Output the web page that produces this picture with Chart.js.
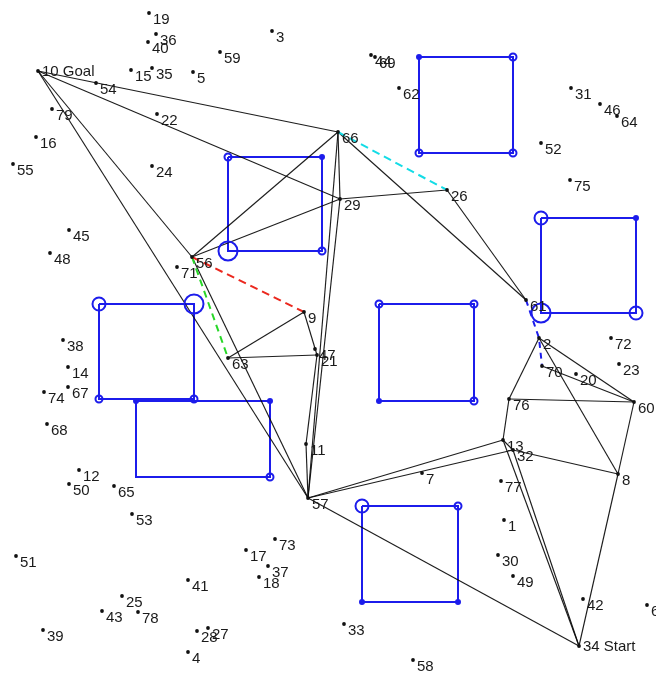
<!DOCTYPE html>
<html>
<head>
<meta charset="utf-8">
<title>Roadmap</title>
<script src="https://cdn.jsdelivr.net/npm/chart.js@4.4.1/dist/chart.umd.min.js"></script>
<style>
  html, body { margin: 0; padding: 0; background: #ffffff; }
  #wrap { width: 656px; height: 675px; }
</style>
</head>
<body>
<div id="wrap"><canvas id="map" width="656" height="675"></canvas></div>
<script>
// ---- roadmap nodes ----
const nodeIds = [1,2,3,4,5,6,7,8,9,10,11,12,13,14,15,16,17,18,19,20,21,22,23,24,25,26,27,28,29,30,
  31,32,33,34,35,36,37,38,39,40,41,42,43,44,45,46,47,48,49,50,51,52,53,54,55,56,57,58,59,60,
  61,62,63,64,65,66,67,68,69,70,71,72,73,74,75,76,77,78,79];
const nodeX = [504,539,272,188,193,647,422,618,304,38,306,79,503,68,131,36,246,259,149,576,317,157,619,152,122,447,208,197,340,498,
  571,513,344,579,152,156,268,63,43,148,188,583,102,371,69,600,315,50,513,69,16,541,132,96,13,192,308,413,220,634,
  526,399,228,617,114,338,68,47,375,542,177,611,275,44,570,509,501,138,52];
const nodeY = [520,338,31,652,72,605,473,474,312,71,444,470,440,367,70,137,550,577,13,374,355,114,364,166,596,190,628,631,199,555,
  88,450,624,646,68,34,566,340,630,42,580,599,611,55,230,104,349,253,576,484,556,143,514,83,164,257,498,660,52,402,
  300,88,358,116,486,132,387,424,57,366,267,338,539,392,180,399,481,612,109];
const nodeNames = { 10: 'Goal', 34: 'Start' };

// ---- roadmap edges (node id pairs) ----
const edges = [
  [10,66],[10,29],[10,56],[10,57],
  [56,66],[56,29],[56,57],
  [66,29],[66,57],[29,57],[29,26],[66,61],[26,61],
  [63,9],[63,21],[9,21],[21,11],[11,57],
  [57,13],[57,32],[57,34],[13,34],[32,34],[13,32],
  [13,76],[76,60],[2,76],[2,60],[2,8],[70,60],[60,8],[32,8],[8,34]
];

// ---- highlighted paths ----
const redPath = [56, 9];
const greenPath = [56, 63];
const cyanPath = [66, 26];
const bluePath = [61, 2, 70];

// ---- square obstacles: left, top, right, bottom ----
const obsLeft   = [419, 228,  99, 136, 379, 541, 362];
const obsTop    = [ 57, 157, 304, 401, 304, 218, 506];
const obsRight  = [513, 322, 194, 270, 474, 636, 458];
const obsBottom = [153, 251, 399, 477, 401, 313, 602];

// corner markers: [obstacle, corner] with corner 0=TL 1=TR 2=BR 3=BL
const cornerDots = [[0,0],[1,1],[3,0],[3,1],[4,3],[5,1],[6,3],[6,2]];
const cornerRingsSmall = [[0,1],[0,2],[0,3],[1,0],[1,2],[2,3],[2,2],[3,2],[4,0],[4,1],[4,2],[6,1]];
const cornerRingsMid = [[2,0],[5,0],[5,2],[6,0]];
const cornerRingsLarge = [[1,3],[2,1],[5,3]];

const BLUE = 'rgb(28,28,235)';
const LINE = 'rgba(10,10,10,0.92)';

function node(id) {
  const i = nodeIds.indexOf(id);
  return { x: nodeX[i], y: nodeY[i] };
}
function corner(o, c) {
  const xs = [obsLeft[o], obsRight[o], obsRight[o], obsLeft[o]];
  const ys = [obsTop[o], obsTop[o], obsBottom[o], obsBottom[o]];
  return { x: xs[c], y: ys[c] };
}

const datasets = [];

// obstacle outlines
for (let o = 0; o < obsLeft.length; o++) {
  datasets.push({
    data: [0,1,2,3,0].map(c => corner(o, c)),
    showLine: true, borderColor: BLUE, borderWidth: 2, pointRadius: 0, fill: false, order: 5
  });
}

// edges
edges.forEach(([a, b]) => {
  datasets.push({
    data: [node(a), node(b)],
    showLine: true, borderColor: LINE, borderWidth: 1.15, pointRadius: 0, fill: false, order: 4
  });
});

// dashed paths
function dashed(path, color, dash) {
  datasets.push({
    data: path.map(node),
    showLine: true, borderColor: color, borderWidth: 2, borderDash: dash,
    pointRadius: 0, fill: false, order: 3
  });
}
dashed(redPath, 'rgb(235,40,30)', [8, 5]);
dashed(greenPath, 'rgb(40,215,40)', [7, 5]);
dashed(cyanPath, 'rgb(20,220,230)', [8, 5]);
dashed(bluePath, BLUE, [6, 5]);

// corner markers
function markers(list, radius, filled) {
  datasets.push({
    data: list.map(([o, c]) => corner(o, c)),
    showLine: false, pointStyle: 'circle', pointRadius: radius, pointHoverRadius: radius,
    pointBorderWidth: 2, pointBorderColor: BLUE,
    pointBackgroundColor: filled ? BLUE : 'rgba(0,0,0,0)', order: 2
  });
}
markers(cornerDots, 2, true);
markers(cornerRingsSmall, 3.5, false);
markers(cornerRingsMid, 6.5, false);
markers(cornerRingsLarge, 9.5, false);

// nodes
datasets.push({
  data: nodeIds.map(node),
  showLine: false, pointStyle: 'circle', pointRadius: 1.9, pointBorderWidth: 0,
  pointBackgroundColor: '#111', order: 1
});

// node numbers next to each dot
const nodeLabels = {
  id: 'nodeLabels',
  afterDatasetsDraw(chart) {
    const { ctx, scales } = chart;
    ctx.save();
    ctx.fillStyle = '#1a1a1a';
    ctx.font = '15px "Liberation Sans", Arial, sans-serif';
    ctx.textAlign = 'left';
    nodeIds.forEach((id, i) => {
      const px = scales.x.getPixelForValue(nodeX[i]);
      const py = scales.y.getPixelForValue(nodeY[i]);
      if (nodeNames[id]) {
        ctx.textBaseline = 'middle';
        ctx.fillText(id + ' ' + nodeNames[id], px + 4, py + 0.5);
      } else {
        ctx.textBaseline = 'alphabetic';
        ctx.fillText(String(id), px + 4, py + 10.5);
      }
    });
    ctx.restore();
  }
};

new Chart(document.getElementById('map'), {
  type: 'scatter',
  data: { datasets },
  options: {
    responsive: false,
    animation: false,
    devicePixelRatio: 1,
    layout: { padding: 0, autoPadding: false },
    clip: false,
    plugins: { legend: { display: false }, tooltip: { enabled: false } },
    elements: { line: { tension: 0 } },
    scales: {
      x: { type: 'linear', min: 0, max: 656, display: false },
      y: { type: 'linear', min: 0, max: 675, reverse: true, display: false }
    }
  },
  plugins: [nodeLabels]
});
</script>
</body>
</html>
